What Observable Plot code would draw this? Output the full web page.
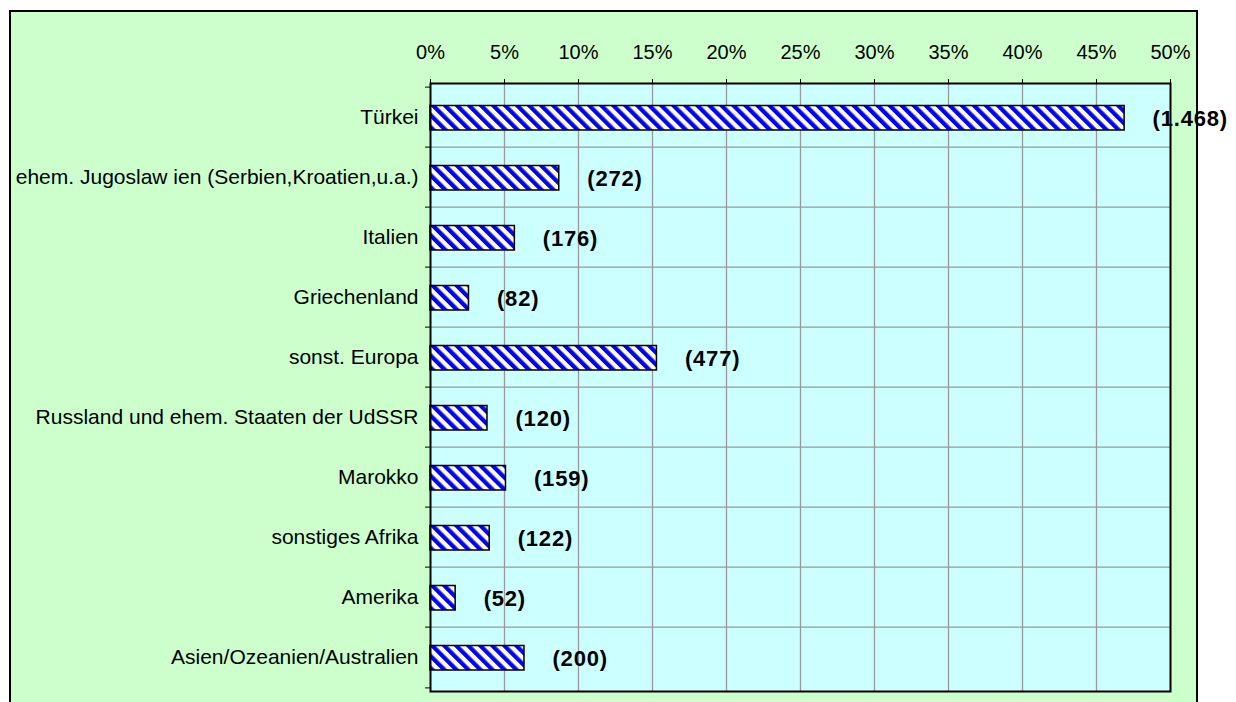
<!DOCTYPE html>
<html>
<head>
<meta charset="utf-8">
<script src="https://cdn.jsdelivr.net/npm/d3@7"></script>
<script src="https://cdn.jsdelivr.net/npm/@observablehq/plot@0.6"></script>
<style>
  html, body { margin: 0; padding: 0; background: #ffffff; }
  #bg { position: absolute; left: 10px; top: 11px; width: 1187px; height: 720px; background: #ccffcc; }
  #chart { position: absolute; left: 0; top: 0; }
  #border { position: absolute; left: 9px; top: 10px; width: 1189px; height: 730px; box-sizing: border-box; border: 2px solid #000; pointer-events: none; }
  #chart svg { overflow: visible; }
  #chart [aria-label^="y-axis"] text { font-size: 21px; }
  #chart g[aria-label="text"] text { letter-spacing: 0.8px; }
</style>
</head>
<body>
<div id="bg"></div>
<div id="chart"></div>
<div id="border"></div>
<script>
const categories = [
  "Türkei",
  "ehem. Jugoslaw ien (Serbien,Kroatien,u.a.)",
  "Italien",
  "Griechenland",
  "sonst. Europa",
  "Russland und ehem. Staaten der UdSSR",
  "Marokko",
  "sonstiges Afrika",
  "Amerika",
  "Asien/Ozeanien/Australien"
];
const shares = [46.9, 8.7, 5.7, 2.6, 15.3, 3.85, 5.1, 4.0, 1.7, 6.35];
const counts = ["1.468", "272", "176", "82", "477", "120", "159", "122", "52", "200"];
const xTicks = [0, 5, 10, 15, 20, 25, 30, 35, 40, 45, 50];

const data = categories.map((c, i) => ({cat: c, pct: shares[i], n: counts[i]}));

const W = 1236, H = 702;
const mTop = 83, mBottom = 11, mLeft = 430, mRight = 66;
const bw = (H - mTop - mBottom) / categories.length;
const pxPerUnit = (W - mLeft - mRight) / 50;
const leftTick = -5 / pxPerUnit;

const svg = Plot.plot({
  width: W,
  height: H,
  marginTop: mTop,
  marginBottom: mBottom,
  marginLeft: mLeft,
  marginRight: mRight,
  style: {fontFamily: "Arial, 'Liberation Sans', sans-serif", fontSize: "20px", background: "transparent", color: "#000", overflow: "visible"},
  x: {domain: [0, 50], axis: "top", ticks: xTicks, tickFormat: d => d + "%", tickSize: 5, tickPadding: 20, label: null, line: false},
  y: {domain: categories, padding: 0, tickSize: 0, tickPadding: 12, label: null},
  marks: [
    Plot.frame({fill: "#ccffff", stroke: "none"}),
    Plot.ruleX(xTicks.slice(1, -1), {stroke: "#999999", strokeWidth: 1.3}),
    Plot.ruleY(categories.slice(1), {stroke: "#999999", strokeWidth: 1.3, dy: -bw / 2}),
    Plot.ruleY(categories, {x1: leftTick, x2: 0, stroke: "#000", strokeWidth: 1, dy: -bw / 2}),
    Plot.ruleY(categories.slice(-1), {x1: leftTick, x2: 0, stroke: "#000", strokeWidth: 1, dy: bw / 2}),
    Plot.barX(data, {x: "pct", y: "cat", fill: "url(#hatch)", stroke: "#000", strokeWidth: 1.5, insetTop: 18.5, insetBottom: 17}),
    Plot.text(data, {x: "pct", y: "cat", text: d => "(" + d.n + ")", textAnchor: "start", dx: 28, dy: 1, fontWeight: "bold", fontSize: 22, fill: "#000"}),
    Plot.frame({stroke: "#000", strokeWidth: 2})
  ]
});

svg.insertAdjacentHTML("afterbegin",
  '<defs><pattern id="hatch" patternUnits="userSpaceOnUse" width="8.5" height="8.5" patternTransform="rotate(-45)">' +
  '<rect width="8.5" height="8.5" fill="#ffffcc"></rect><rect width="4.25" height="8.5" fill="#0000ff"></rect></pattern></defs>');

document.getElementById("chart").appendChild(svg);
</script>
</body>
</html>
